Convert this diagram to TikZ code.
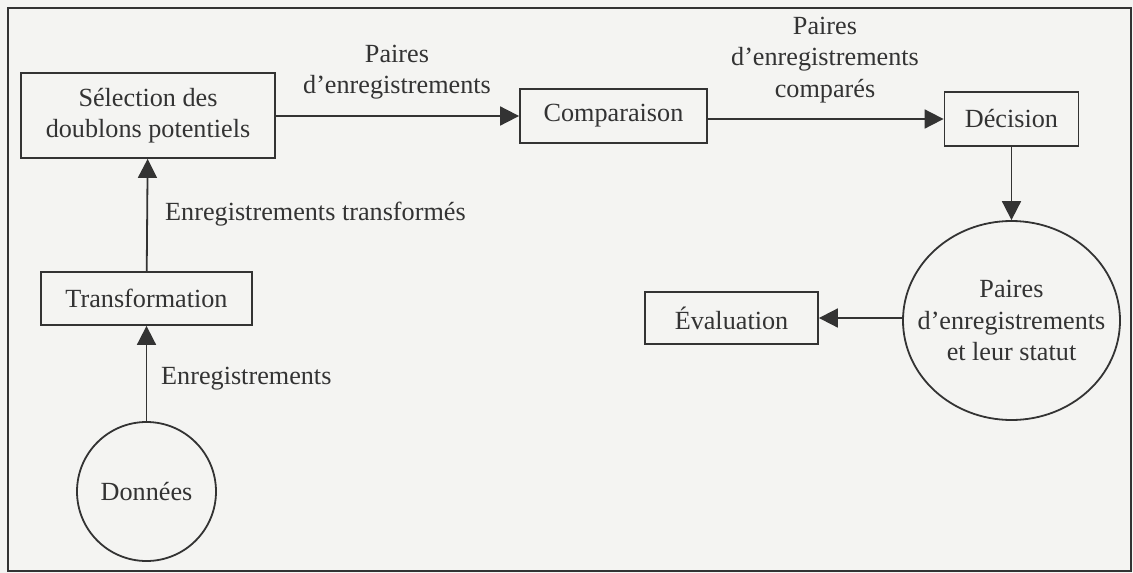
\documentclass[tikz,border=0pt]{standalone}
\usepackage{fontspec}
\setmainfont{Liberation Serif}
\usetikzlibrary{arrows.meta,shapes.geometric}
\definecolor{ink}{HTML}{333333}
\definecolor{paper}{HTML}{F4F4F2}
\tikzset{
  box/.style={draw=ink, line width=1.8pt, rectangle, inner sep=0pt, text=ink, align=center},
  store/.style={draw=ink, line width=1.8pt, ellipse, inner sep=0pt, text=ink, align=center},
  lbl/.style={text=ink, align=center, inner sep=0pt},
  flow/.style={draw=ink, line width=1.8pt, -{Triangle[length=19pt,width=19pt]}},
}
\begin{document}
\begin{tikzpicture}[x=1pt,y=-1pt,font=\fontsize{26.2}{31.5}\selectfont]
\useasboundingbox (0,0) rectangle (1133,573);
\fill[paper] (0,0) rectangle (1133,573);
\draw[ink, line width=1.8pt] (8,8) rectangle (1131,571);

\node[box, minimum width=254pt, minimum height=85pt] (sel) at (148,115.5) {Sélection des\\doublons potentiels};
\node[box, minimum width=211pt, minimum height=53pt] (trans) at (146.5,298.5) {Transformation};
\node[store, minimum width=139pt, minimum height=139pt] (don) at (146.5,491.5) {Données};
\node[box, minimum width=187pt, minimum height=54pt] (comp) at (613.5,116) {Comparaison};
\node[box, minimum width=134pt, minimum height=54pt] (dec) at (1011.5,119) {Décision};
\node[store, minimum width=217pt, minimum height=199pt] (pst) at (1011.5,320.5) {};
\node[lbl] (pstt) at (pst.center) {Paires\\d’enregistrements\\et leur statut};
\node[box, minimum width=173pt, minimum height=52pt] (eval) at (731.5,318) {Évaluation};

\draw[flow] (don) -- (trans);
\draw[flow] (trans) -- (sel);
\draw[flow] (sel.east |- comp.west) -- (comp.west);
\draw[flow] (comp.east |- dec.west) -- (dec.west);
\draw[flow] (dec) -- (pst);
\draw[flow] (pst.west |- eval.east) -- (eval.east);

\node[lbl] (l1) at (397,72) {Paires\\d’enregistrements};
\node[lbl] (l2) at (825,60) {Paires\\d’enregistrements\\comparés};
\node[lbl, anchor=west] (l3) at (165,214) {Enregistrements transformés};
\node[lbl, anchor=west] (l4) at (161,379) {Enregistrements};
\end{tikzpicture}
\end{document}
